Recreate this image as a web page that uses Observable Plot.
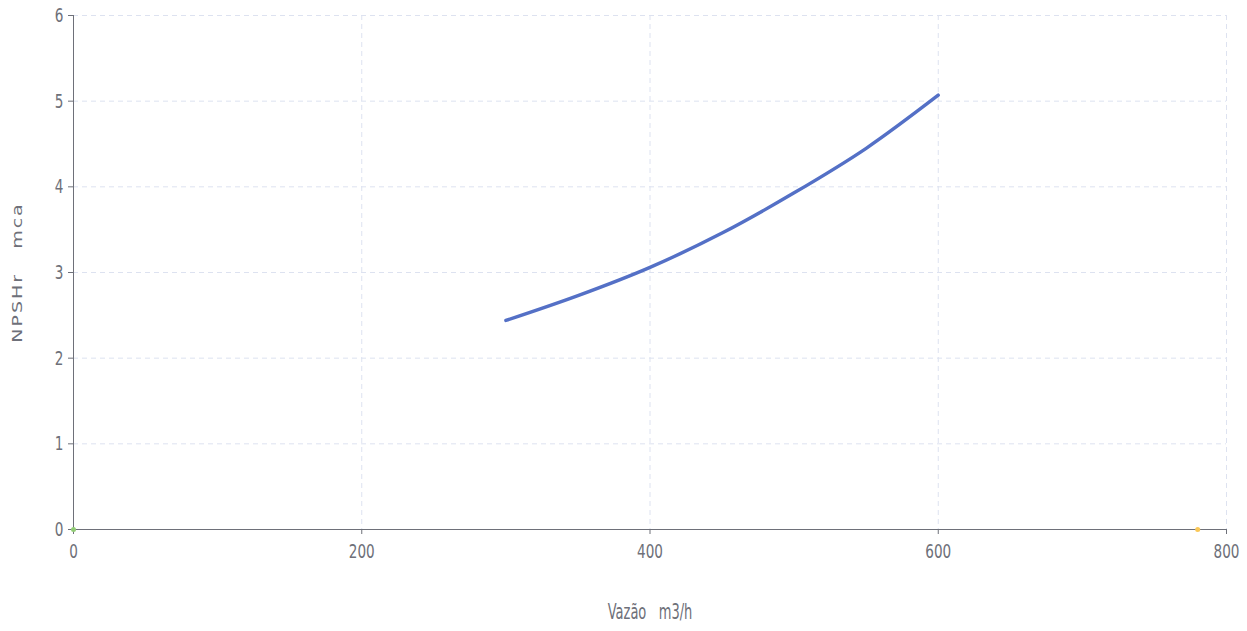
<!DOCTYPE html>
<html>
<head>
<meta charset="utf-8">
<script src="https://cdn.jsdelivr.net/npm/d3@7"></script>
<script src="https://cdn.jsdelivr.net/npm/@observablehq/plot@0.6"></script>
<style>
  html, body { margin: 0; padding: 0; background: #fff; }
  #chart svg { display: block; }
</style>
</head>
<body>
<div id="chart"></div>
<script>
// Data
const flow = [300, 350, 400, 450, 500, 550, 600];           // Vazão m3/h
const npshr = [2.44, 2.73, 3.06, 3.46, 3.93, 4.45, 5.07];   // NPSHr mca
const markerX = [0, 780];
const markerY = [0, 0];
const markerColors = ["#91cc75", "#fac858"];
const xTicks = [0, 200, 400, 600, 800];
const yTicks = [0, 1, 2, 3, 4, 5, 6];
const xLabel = "Vazão\u00a0\u00a0\u00a0m3/h";
const yLabel = "NPSHr\u00a0\u00a0\u00a0mca";

const curve = flow.map((x, i) => ({x, y: npshr[i]}));
const markers = markerX.map((x, i) => ({x, y: markerY[i], c: markerColors[i]}));

const font = "'DejaVu Sans', sans-serif";
const axisColor = "#6e7079";
const gridColor = "#dde2f0";

const plot = Plot.plot({
  width: 1247,
  height: 631,
  marginTop: 15,
  marginRight: 21,
  marginBottom: 102,
  marginLeft: 73,
  style: {background: "#fff", overflow: "visible"},
  x: {domain: [0, 800]},
  y: {domain: [0, 6]},
  marks: [
    Plot.gridX(xTicks.filter(d => d !== 0), {stroke: gridColor, strokeOpacity: 1, strokeDasharray: "5,4"}),
    Plot.gridY(yTicks.filter(d => d !== 0), {stroke: gridColor, strokeOpacity: 1, strokeDasharray: "5,4"}),
    Plot.ruleX([0], {stroke: axisColor}),
    Plot.ruleY([0], {stroke: axisColor}),
    Plot.axisX({ticks: xTicks, tickSize: 5, tickPadding: 9, tickFormat: d3.format("d"), label: null, color: axisColor, fontSize: 20, fontFamily: font, className: "xtick"}),
    Plot.axisY({ticks: yTicks, tickSize: 5, tickPadding: 5, tickFormat: d3.format("d"), label: null, color: axisColor, fontSize: 20, fontFamily: font, className: "ytick"}),
    Plot.line(curve, {x: "x", y: "y", stroke: "#5470c6", strokeWidth: 3.4, curve: "monotone-x"}),
    Plot.dot(markers, {x: "x", y: "y", r: 2.5, fill: "c", stroke: null}),
    Plot.text([xLabel], {frameAnchor: "bottom", dy: 83, fill: axisColor, fontSize: 21, fontFamily: font, lineAnchor: "middle", textAnchor: "middle", className: "xlab"}),
    Plot.text([yLabel], {frameAnchor: "left", dx: -56, rotate: -90, fill: axisColor, fontSize: 19, fontFamily: font, lineAnchor: "middle", textAnchor: "middle", className: "ylab"})
  ]
});

function squeeze(selector, sx, sy) {
  d3.select(plot).selectAll(selector).each(function() {
    const t = this.getAttribute("transform") || "";
    this.setAttribute("transform", `${t} scale(${sx},${sy})`);
  });
}

squeeze(".xtick text", 0.68, 1);
squeeze(".ytick text", 0.68, 1);
squeeze(".xlab text", 0.62, 1);
d3.select(plot).selectAll(".ylab text").style("letter-spacing", "2px");
squeeze(".ylab text", 1, 0.75);
document.getElementById("chart").appendChild(plot);
</script>
</body>
</html>
